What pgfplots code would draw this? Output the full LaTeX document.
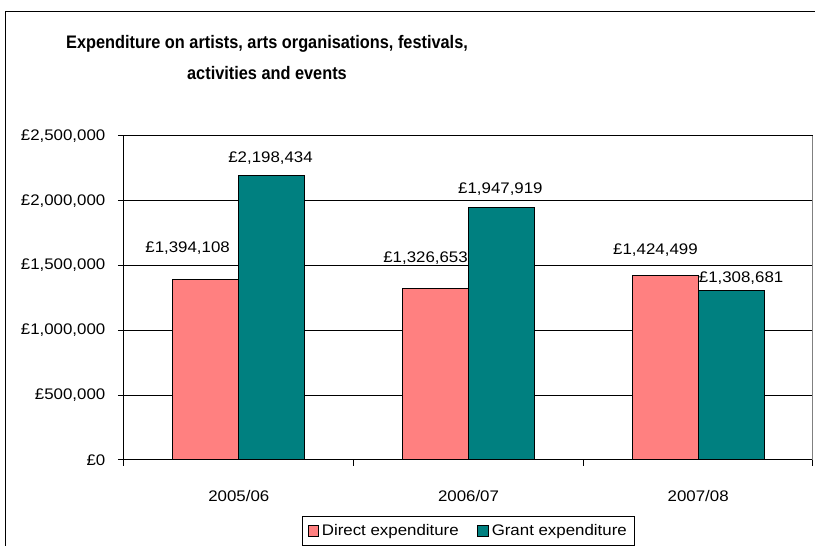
\documentclass[border=0pt]{standalone}
\usepackage{fontspec}
\setmainfont{Liberation Sans}[FakeStretch=1.1]
\newfontfamily\titlefont{Liberation Sans}[FakeStretch=0.9]
\usepackage{pgfplots}
\pgfplotsset{compat=1.18}
\definecolor{directpink}{HTML}{FF8080}
\definecolor{grantteal}{HTML}{008080}
\newcommand{\lblfont}{\fontsize{11.5}{13.8}\selectfont}

\begin{document}
\begin{tikzpicture}
% 1 px of the reference = 0.75pt
\useasboundingbox (0pt,0pt) rectangle (611.25pt,409.5pt);
% chart frame, cut off on the right and at the bottom
\draw[line width=0.75pt] (3.75pt,-15pt) -- (3.75pt,400.5pt) -- (630pt,400.5pt);
\node[font=\titlefont\bfseries\fontsize{13.6}{23.25}\selectfont, align=center]
  at (200.25pt,366pt) {Expenditure on artists, arts organisations, festivals,\\activities and events};
\begin{axis}[
    at={(93pt,64.5pt)}, anchor=south west,
    scale only axis,
    width=516.75pt, height=243pt,
    ybar=0pt, bar width=49.5pt,
    every axis plot post/.append style={
      legend image code/.code={\draw[##1, draw=black, line width=0.75pt] (0pt,-4pt) rectangle (8pt,4pt);}},
    xmin=-0.5, xmax=2.5,
    ymin=0, ymax=2500000,
    xtick={-0.5,0.5,1.5,2.5},
    x tick label as interval,
    xticklabels={2005/06,2006/07,2007/08},
    ytick={0,500000,1000000,1500000,2000000,2500000},
    yticklabels={£0,{£500,000},{£1,000,000},{£1,500,000},{£2,000,000},{£2,500,000}},
    scaled y ticks=false,
    tick pos=left,
    tick align=outside,
    major tick length=4.5pt,
    every tick/.style={black, line width=0.75pt},
    axis line style={line width=0.75pt},
    tick label style={font=\lblfont},
    yticklabel style={anchor=east, xshift=-6pt},
    xticklabel style={anchor=center, yshift=-22.5pt},
    ymajorgrids,
    grid style={black, line width=0.75pt},
    legend columns=2,
    legend style={
      at={(0.5,-0.1728)}, anchor=north,
      draw=black, line width=0.75pt,
      font=\lblfont,
      inner ysep=4pt, inner xsep=4pt,
      /tikz/every even column/.append style={column sep=12pt}},
]
\addplot[fill=directpink, draw=black, line width=0.75pt]
  coordinates {(0,1394108) (1,1326653) (2,1424499)};
\addplot[fill=grantteal, draw=black, line width=0.75pt]
  coordinates {(0,2198434) (1,1947919) (2,1308681)};
\legend{Direct expenditure, Grant expenditure}

% value labels, placed as in the original chart
\begin{scope}[every node/.style={font=\lblfont, text depth=0pt, inner sep=0pt}]
\node at (axis cs:-0.223,1643500) {£1,394,108};
\node at (axis cs:0.138,2337963) {£2,198,434};
\node at (axis cs:0.813,1566358) {£1,326,653};
\node at (axis cs:1.139,2098765) {£1,947,919};
\node at (axis cs:1.814,1628086) {£1,424,499};
\node at (axis cs:2.187,1414352) {£1,308,681};
\end{scope}
\draw[gray, line width=0.75pt] (rel axis cs:1,0) -- (rel axis cs:1,1);
\end{axis}
\end{tikzpicture}
\end{document}
